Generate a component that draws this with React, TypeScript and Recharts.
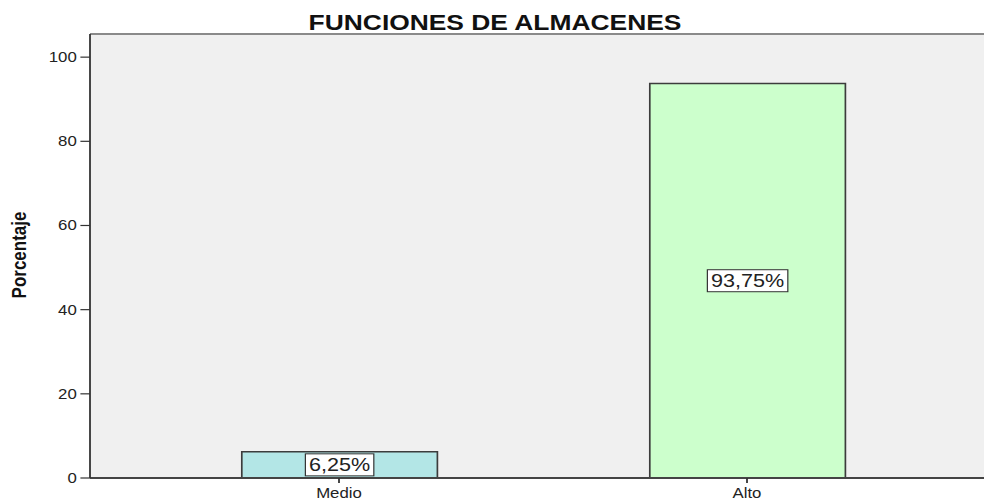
import React from 'react';
import { BarChart, Bar, XAxis, YAxis, Cell, LabelList } from 'recharts';

const categories = ['Medio', 'Alto'];
const percentages = [6.25, 93.75];
const valueLabels = ['6,25%', '93,75%'];
const barColors = ['#b3e6e6', '#ccffcc'];
const yTicks = [0, 20, 40, 60, 80, 100];
const yMax = 105.5;
const title = 'FUNCIONES DE ALMACENES';
const yLabel = 'Porcentaje';

const data = categories.map((c, i) => ({ name: c, value: percentages[i], label: valueLabels[i] }));

const FONT = '"Liberation Sans", Arial, sans-serif';
const charW: Record<string, number> = {
  '0': 0.556, '1': 0.556, '2': 0.556, '3': 0.556, '4': 0.556, '5': 0.556,
  '6': 0.556, '7': 0.556, '8': 0.556, '9': 0.556, ',': 0.278, '%': 0.889,
};

const CHART_W = 866;
const CHART_H = 500;
const M_TOP = 34;
const Y_AXIS_W = 75;
const X_AXIS_H = 22;

function renderLabel(props: any) {
  const { x, y, width, height, value } = props;
  const fs = 18;
  const tw = String(value).split('').reduce((s, c) => s + (charW[c] ?? 0.556), 0) * fs;
  const bw = tw + 6;
  const bh = 22;
  const cx = Number(x) + Number(width) / 2;
  const cy = Number(y) + Number(height) / 2;
  return (
    <g>
      <rect x={cx - bw / 2} y={cy - bh / 2} width={bw} height={bh} fill="#ffffff" stroke="#333333" strokeWidth={1} />
      <text x={cx} y={cy} dy="0.355em" textAnchor="middle" fontSize={fs} fontFamily={FONT} fill="#222222">
        {value}
      </text>
    </g>
  );
}

export default function App() {
  return (
    <div style={{ position: 'fixed', left: 0, top: 0, width: 1040, height: 500, overflow: 'hidden', background: '#ffffff' }}>
      <style>{'html,body{overflow:hidden;margin:0;}'}</style>
      <div style={{ position: 'relative', width: CHART_W, height: CHART_H, transform: 'scale(1.2, 1)', transformOrigin: '0 0' }}>
        <div
          style={{
            position: 'absolute',
            left: Y_AXIS_W,
            top: M_TOP - 1,
            width: CHART_W - Y_AXIS_W,
            height: CHART_H - M_TOP - X_AXIS_H + 1,
            background: '#f0f0f0',
            borderTop: '2px solid #8a8a8a',
            boxSizing: 'border-box',
          }}
        />
        <BarChart
          width={CHART_W}
          height={CHART_H}
          data={data}
          margin={{ top: M_TOP, right: 0, bottom: 0, left: 0 }}
          style={{ fontFamily: FONT }}
        >
          <XAxis
            dataKey="name"
            padding={{ left: 37.5, right: 73.5 }}
            height={X_AXIS_H}
            tickSize={5}
            tickMargin={5}
            interval={0}
            axisLine={{ stroke: '#444444', strokeWidth: 2 }}
            tickLine={{ stroke: '#333333', strokeWidth: 1.5 }}
            tick={{ fill: '#222222', fontSize: 14, fontFamily: FONT }}
          />
          <YAxis
            width={Y_AXIS_W}
            domain={[0, yMax]}
            ticks={yTicks}
            allowDataOverflow
            tickSize={8}
            tickMargin={3}
            axisLine={{ stroke: '#333333', strokeWidth: 1.5 }}
            tickLine={{ stroke: '#333333', strokeWidth: 1.2 }}
            tick={{ fill: '#222222', fontSize: 14, fontFamily: FONT }}
          />
          <Bar dataKey="value" barSize={163} stroke="#3c3c3c" strokeWidth={1.4} isAnimationActive={false}>
            {data.map((d, i) => (
              <Cell key={d.name} fill={barColors[i]} />
            ))}
            <LabelList dataKey="label" content={renderLabel} />
          </Bar>
        </BarChart>
        <svg width={CHART_W} height={CHART_H} style={{ position: 'absolute', left: 0, top: 0, pointerEvents: 'none' }}>
          <text x={412.5} y={30} textAnchor="middle" fontSize={22} fontWeight="bold" fontFamily={FONT} fill="#111111">
            {title}
          </text>
          <text
            x={22}
            y={255}
            textAnchor="middle"
            fontSize={17}
            fontWeight="bold"
            fontFamily={FONT}
            fill="#111111"
            transform="rotate(-90 22 255)"
          >
            {yLabel}
          </text>
        </svg>
      </div>
    </div>
  );
}
